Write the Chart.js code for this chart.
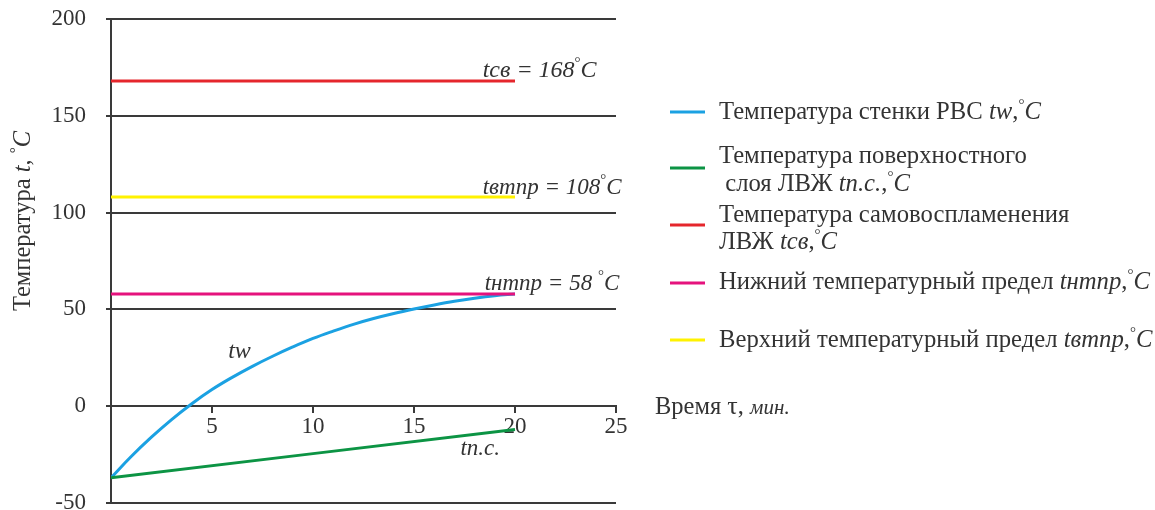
<!DOCTYPE html>
<html><head><meta charset="utf-8">
<script src="https://cdn.jsdelivr.net/npm/chart.js@4.4.0/dist/chart.umd.min.js"></script>
<style>html,body{margin:0;padding:0;background:#fff;}#wrap{width:1155px;height:510px;position:relative;}</style>
</head><body><div id="wrap"><canvas id="c" width="1155" height="510"></canvas></div>
<script>
// ---- data ----
const wallTime = [0,1,2,3,4,5,6,7,8,9,10,11,12,13,14,15,16,17,18,19,20];
const wallTemp = [-37,-26,-16,-6.9,1.3,8.6,14.9,20.6,25.8,30.6,35,38.8,42.3,45.3,47.9,50.2,52.3,54.2,55.8,57.1,58];
const surfTime = [0,10,20];
const surfTemp = [-37,-24.5,-12];
const limitTime = [0,20];
const autoIgnitionTemp = 168;
const upperLimitTemp = 108;
const lowerLimitTemp = 58;
const yTickValues = [-50,0,50,100,150,200];
const xTickValues = [0,5,10,15,20,25];
const seriesColors = ['#1ba1e2','#0c9444','#e5262c','#e5127d','#fff200'];

const SERIF = '"Liberation Serif","Times New Roman",serif';
const TXT = '#333333';
const pts = (xs, ys) => xs.map((x,i)=>({x, y: ys[i]}));
const flat = (v) => limitTime.map(x=>({x, y:v}));

function font(r, base){ return (r.i?'italic ':'') + (r.s||base||23) + 'px ' + SERIF; }
function runs(ctx, x, y, list, base){
  let cx = x;
  list.forEach(r=>{ ctx.font = font(r, base); ctx.fillText(r.t, cx, y + (r.dy||0)); cx += ctx.measureText(r.t).width; });
  return cx;
}
const DEG = [{t:'°',s:15,dy:-10},{t:'C',i:1}];

const textPlugin = {
  id:'texts',
  afterDraw(chart){
    const ctx = chart.ctx, xs = chart.scales.x, ys = chart.scales.y, ca = chart.chartArea;
    ctx.save();
    ctx.fillStyle = TXT; ctx.textBaseline = 'alphabetic'; ctx.textAlign = 'left';
    // annotations
    runs(ctx, xs.getPixelForValue(18.4), ys.getPixelForValue(autoIgnitionTemp)-4,
      [{t:'tсв = 168',i:1}].concat(DEG), 24);
    runs(ctx, xs.getPixelForValue(18.4), ys.getPixelForValue(upperLimitTemp)-3,
      [{t:'tвтпр = 108',i:1}].concat(DEG), 23);
    runs(ctx, xs.getPixelForValue(18.5), ys.getPixelForValue(lowerLimitTemp)-4,
      [{t:'tнтпр = 58 ',i:1}].concat(DEG), 23);
    runs(ctx, xs.getPixelForValue(5.8), ys.getPixelForValue(25), [{t:'tw',i:1}], 24);
    runs(ctx, xs.getPixelForValue(17.3), ys.getPixelForValue(-25), [{t:'tп.с.',i:1}], 23);
    // x axis title
    runs(ctx, ca.right + 39, ys.getPixelForValue(0) + 8, [{t:'Время '},{t:'τ',s:26},{t:', '},{t:'мин.',i:1,s:21}], 24.5);
    // y axis title
    ctx.save();
    ctx.translate(30, 221);
    ctx.rotate(-Math.PI/2);
    const parts = [{t:'Температура '},{t:'t',i:1},{t:', '}].concat(DEG);
    let w = 0; parts.forEach(p=>{ctx.font=font(p,24.5); w+=ctx.measureText(p.t).width;});
    runs(ctx, -w/2, 0, parts, 24.5);
    ctx.restore();
    // legend
    const lx = ca.right + 54;
    const items = [
      {c:seriesColors[0], my:112, lines:[{y:119,r:[{t:'Температура стенки РВС '},{t:'tw',i:1},{t:','}].concat(DEG)}]},
      {c:seriesColors[1], my:168, lines:[{y:163,r:[{t:'Температура поверхностного'}]},{y:191,r:[{t:' слоя ЛВЖ '},{t:'tп.с.',i:1},{t:','}].concat(DEG)}]},
      {c:seriesColors[2], my:225, lines:[{y:222,r:[{t:'Температура самовоспламенения'}]},{y:249,r:[{t:'ЛВЖ '},{t:'tсв',i:1},{t:','}].concat(DEG)}]},
      {c:seriesColors[3], my:283, lines:[{y:289,r:[{t:'Нижний температурный предел '},{t:'tнтпр',i:1},{t:','}].concat(DEG)}]},
      {c:seriesColors[4], my:340, lines:[{y:347,r:[{t:'Верхний температурный предел '},{t:'tвтпр',i:1},{t:','}].concat(DEG)}]}
    ];
    items.forEach(it=>{
      ctx.strokeStyle = it.c; ctx.lineWidth = 3;
      ctx.beginPath(); ctx.moveTo(lx, it.my); ctx.lineTo(lx+35, it.my); ctx.stroke();
      it.lines.forEach(l=>runs(ctx, lx+49, l.y, l.r, 24.7));
    });
    ctx.restore();
  }
};

const lineDs = (label, data, color, tension) => ({
  label, data, borderColor: color, backgroundColor: color, borderWidth: 3,
  pointRadius: 0, tension: tension||0, cubicInterpolationMode: 'default', fill:false
});

new Chart(document.getElementById('c'), {
  type:'line',
  data:{ datasets:[
    lineDs('tсв', flat(autoIgnitionTemp), seriesColors[2]),
    lineDs('tвтпр', flat(upperLimitTemp), seriesColors[4]),
    lineDs('tнтпр', flat(lowerLimitTemp), seriesColors[3]),
    lineDs('tп.с.', pts(surfTime, surfTemp), seriesColors[1]),
    lineDs('tw', pts(wallTime, wallTemp), seriesColors[0], 0.4)
  ]},
  options:{
    responsive:false, animation:false, devicePixelRatio:1,
    layout:{ padding:{ left:0, right:539, top:19, bottom:7 } },
    plugins:{ legend:{display:false}, tooltip:{enabled:false} },
    scales:{
      x:{ type:'linear', position:{y:0}, min:0, max:25,
        afterBuildTicks: s => { s.ticks = xTickValues.map(v=>({value:v})); },
        ticks:{ font:{family:SERIF,size:23}, color:TXT, padding:1, maxRotation:0,
          callback: v => v===0 ? '' : String(v) },
        grid:{ display:true, drawOnChartArea:false, drawTicks:true, tickLength:6, color:'#3a3a3a', lineWidth:2 },
        border:{ display:true, color:'#3a3a3a', width:2 }
      },
      y:{ type:'linear', min:-50, max:200,
        afterBuildTicks: s => { s.ticks = yTickValues.map(v=>({value:v})); },
        afterFit: s => { s.width = 111; s.paddingTop = 0; s.paddingBottom = 0; },
        ticks:{ font:{family:SERIF,size:23}, color:TXT, padding:20 },
        grid:{ color:'#3a3a3a', lineWidth:2, tickLength:5 },
        border:{ display:true, color:'#3a3a3a', width:2 }
      }
    }
  },
  plugins:[textPlugin]
});
</script></body></html>
